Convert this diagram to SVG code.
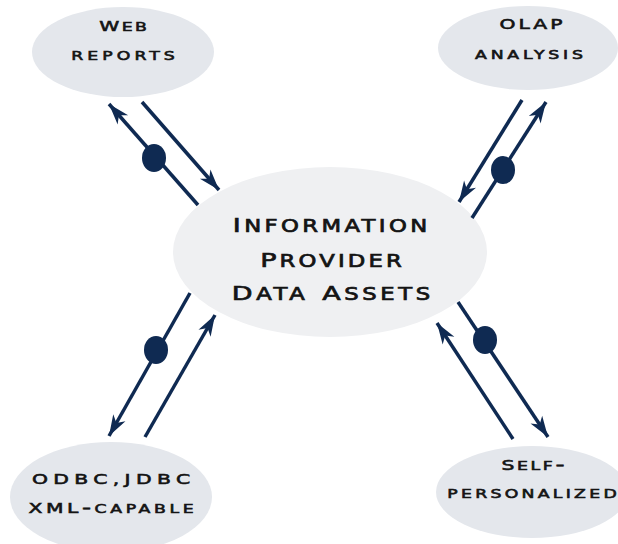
<svg xmlns="http://www.w3.org/2000/svg" width="618" height="544" viewBox="0 0 618 544">
<style>
.bg{fill:#ffffff}
.node{fill:#e4e7ec}
.center{fill:#eff0f2}
.t{font-family:"DejaVu Sans","Liberation Sans",sans-serif;font-variant:small-caps;fill:#141414;text-anchor:middle;stroke:#141414}
.s{font-size:18px;stroke-width:0.6}
.sc{font-size:14.5px}
.c{font-size:23.5px;stroke-width:0.7}
.cc{font-size:20px}
.ln{stroke:#0f2a52;stroke-width:3.5;fill:none}
.dot{fill:#0f2a52}
</style>
<defs>
<marker id="ah" markerUnits="userSpaceOnUse" markerWidth="24" markerHeight="16" viewBox="-22 -8 24 16" refX="0" refY="0" orient="auto">
<path d="M0,0 L-21,-7 L-15,0 L-21,7 Z" fill="#0f2a52"/>
</marker>
</defs>
<rect class="bg" x="0" y="0" width="618" height="544"/>
<g id="center-node">
<ellipse class="center" cx="330" cy="252" rx="157" ry="85"/>
<text class="t c" transform="translate(330,232) scale(1.35,1)" x="0" y="0" textLength="144" lengthAdjust="spacing"><tspan class="cc">I</tspan>nformation</text>
<text class="t c" transform="translate(331,267) scale(1.35,1)" x="0" y="0" textLength="105" lengthAdjust="spacing"><tspan class="cc">P</tspan>rovider</text>
<text class="t c" transform="translate(331,300) scale(1.35,1)" x="0" y="0" textLength="147" lengthAdjust="spacing"><tspan class="cc">D</tspan>ata <tspan class="cc">A</tspan>ssets</text>
</g>
<g id="web-reports">
<ellipse class="node" cx="123" cy="52" rx="91" ry="45"/>
<text class="t s" transform="translate(123,31) scale(1.4,1)" x="0" y="0" textLength="34" lengthAdjust="spacing"><tspan class="sc">W</tspan>eb</text>
<text class="t s" transform="translate(123,60) scale(1.4,1)" x="0" y="0" textLength="74" lengthAdjust="spacing">reports</text>
</g>
<g id="olap-analysis">
<ellipse class="node" cx="528" cy="48" rx="90" ry="42"/>
<text class="t s" transform="translate(531,29) scale(1.4,1)" x="0" y="0" textLength="45" lengthAdjust="spacing"><tspan class="sc">OLAP</tspan></text>
<text class="t s" transform="translate(529,59) scale(1.4,1)" x="0" y="0" textLength="77" lengthAdjust="spacing">analysis</text>
</g>
<g id="odbc-jdbc">
<ellipse class="node" cx="111" cy="497" rx="101" ry="55"/>
<text class="t s" transform="translate(111,484) scale(1.4,1)" x="0" y="0" textLength="113" lengthAdjust="spacing"><tspan class="sc">ODBC,JDBC</tspan></text>
<text class="t s" transform="translate(111,513) scale(1.4,1)" x="0" y="0" textLength="118" lengthAdjust="spacing"><tspan class="sc">XML</tspan>-capable</text>
</g>
<g id="self-personalized">
<ellipse class="node" cx="532" cy="492" rx="96" ry="46"/>
<text class="t s" transform="translate(533,470) scale(1.4,1)" x="0" y="0" textLength="45" lengthAdjust="spacing"><tspan class="sc">S</tspan>elf-</text>
<text class="t s" transform="translate(532,498) scale(1.4,1)" x="0" y="0" textLength="121" lengthAdjust="spacing">personalized</text>
</g>
<g id="connectors">
<line class="ln" x1="198" y1="205" x2="109" y2="104" marker-end="url(#ah)"/>
<ellipse class="dot" cx="154" cy="158" rx="12" ry="14"/>
<line class="ln" x1="142" y1="102" x2="219" y2="190" marker-end="url(#ah)"/>
<line class="ln" x1="522" y1="100" x2="459" y2="202" marker-end="url(#ah)"/>
<line class="ln" x1="472" y1="218" x2="546" y2="102" marker-end="url(#ah)"/>
<ellipse class="dot" cx="503" cy="170" rx="12" ry="14"/>
<line class="ln" x1="190" y1="293" x2="109" y2="436" marker-end="url(#ah)"/>
<ellipse class="dot" cx="156" cy="350" rx="12" ry="14"/>
<line class="ln" x1="145" y1="437" x2="215" y2="315" marker-end="url(#ah)"/>
<line class="ln" x1="458" y1="302" x2="548" y2="437" marker-end="url(#ah)"/>
<ellipse class="dot" cx="485" cy="340" rx="12" ry="14"/>
<line class="ln" x1="513" y1="439" x2="437" y2="323" marker-end="url(#ah)"/>
</g>
</svg>
